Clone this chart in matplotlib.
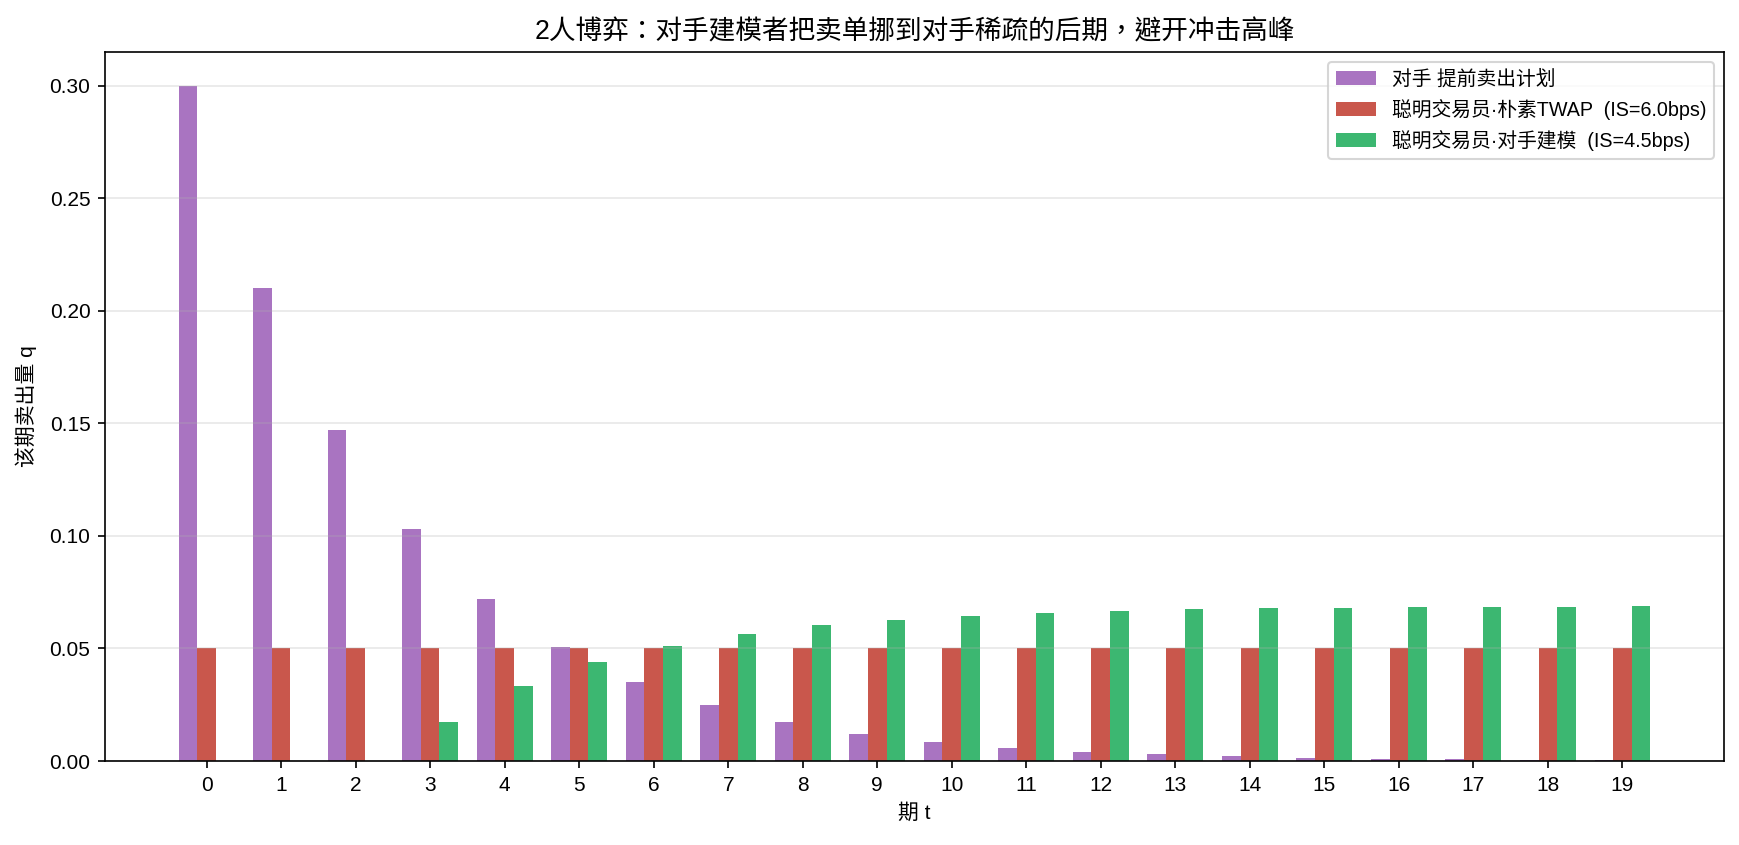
import numpy as np
import matplotlib
matplotlib.use("Agg")
import matplotlib.pyplot as plt

plt.rcParams['font.family'] = ['Liberation Sans', 'Noto Sans CJK TC', 'DejaVu Sans']
plt.rcParams['axes.unicode_minus'] = False

# 数据
periods = list(range(20))
opponent = [0.300, 0.210, 0.147, 0.103, 0.072, 0.0505, 0.0353, 0.0247, 0.0173, 0.0121,
            0.0085, 0.0059, 0.0042, 0.0029, 0.0020, 0.0014, 0.0010, 0.0007, 0.0005, 0.0003]
naive_twap = [0.05] * 20
modeler = [0.0, 0.0, 0.0, 0.0172, 0.0332, 0.0438, 0.0513, 0.0566, 0.0605, 0.0627,
           0.0645, 0.0658, 0.0667, 0.0676, 0.0680, 0.0680, 0.0684, 0.0684, 0.0685, 0.0688]

labels = ["对手 提前卖出计划",
          "聪明交易员·朴素TWAP  (IS=6.0bps)",
          "聪明交易员·对手建模  (IS=4.5bps)"]
colors = ["#a974c1", "#c9574c", "#3cb771"]

fig = plt.figure(figsize=(1739 / 150, 845 / 150), dpi=150)
ax = fig.add_axes([105 / 1739, 1 - 761 / 845, (1724 - 105) / 1739, (761 - 52) / 845])

x = np.arange(len(periods))
w = 0.25
ax.bar(x - w, opponent, w, color=colors[0], label=labels[0])
ax.bar(x, naive_twap, w, color=colors[1], label=labels[1])
ax.bar(x + w, modeler, w, color=colors[2], label=labels[2])

ax.set_xticks(x)
ax.set_xticklabels([str(p) for p in periods])
ax.grid(axis='y', alpha=0.3)
ax.set_xlabel("期 t", fontsize=10)
ax.set_ylabel("该期卖出量 q", fontsize=10, labelpad=6)
ax.set_title("2人博弈：对手建模者把卖单挪到对手稀疏的后期，避开冲击高峰", fontsize=12.8)
ax.tick_params(labelsize=10)
ax.legend(loc='upper right', fontsize=9.5)

fig.savefig("out.png", dpi=150)
